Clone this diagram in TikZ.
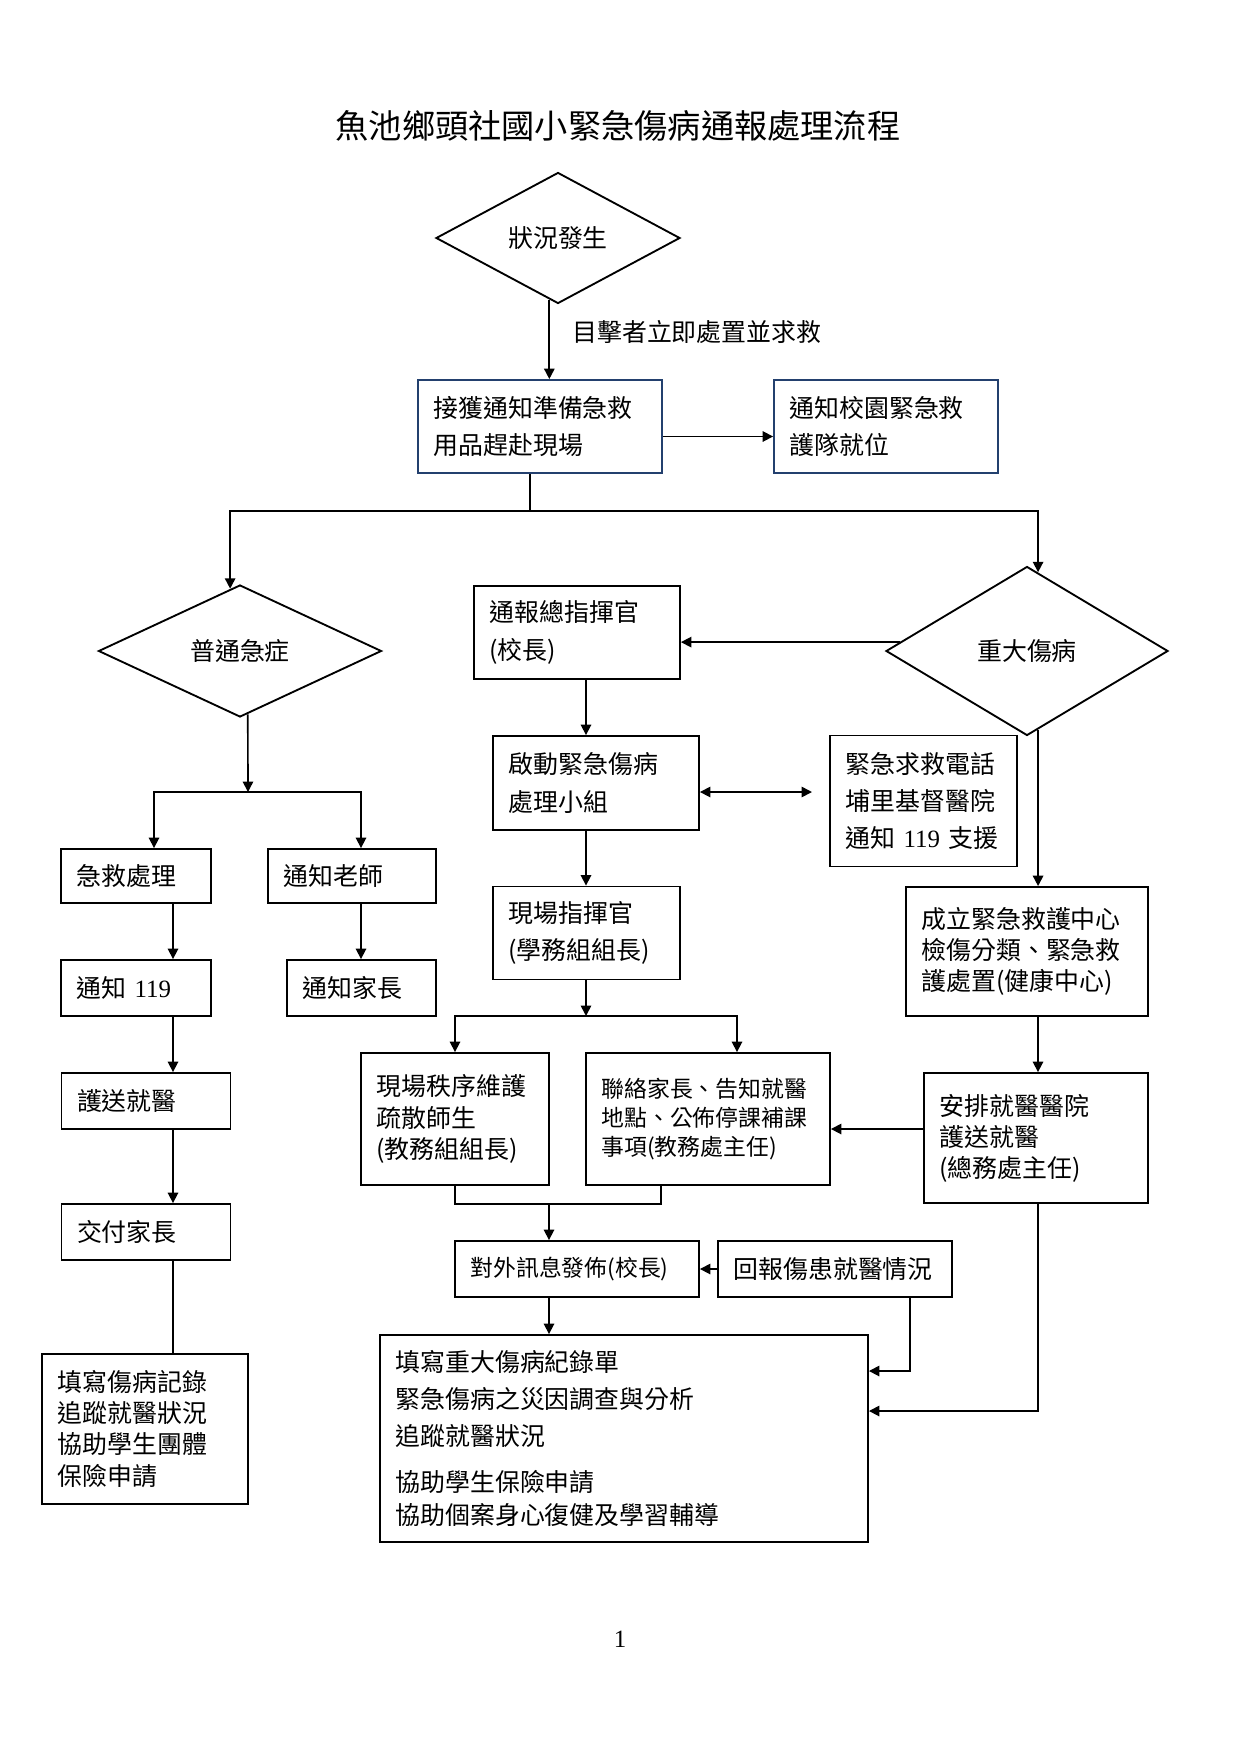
\documentclass[tikz,border=0pt]{standalone}
\usepackage{fontspec}
\setmainfont{Noto Sans CJK TC}
\newfontfamily\latinfont{Liberation Serif}
\usepackage{xcolor}
\usetikzlibrary{shapes.geometric,arrows.meta,calc}

\definecolor{navyline}{RGB}{35,64,110}
\newcommand{\pxlen}{0.16935mm}
\newcommand{\latn}[1]{{\latinfont #1}}

\tikzset{
  box/.code 2 args={%
    \pgfmathsetlengthmacro\boxw{#1*\pxlen}%
    \pgfmathsetlengthmacro\boxh{#2*\pxlen}%
    \pgfmathsetlengthmacro\boxt{#1*\pxlen-15pt}%
    \edef\boxopts{\noexpand\tikzset{draw, line width=0.9pt, minimum width=\boxw,
      minimum height=\boxh, text width=\boxt, inner xsep=7.5pt, inner ysep=0pt, align=left}}%
    \boxopts},
  decide/.style n args={3}{diamond, draw, line width=0.9pt, inner sep=0pt, aspect=#3,
    minimum width=#1*\pxlen, minimum height=#2*\pxlen},
  arr/.style={-{Triangle[length=5pt,width=5pt]}, line width=0.8pt},
  link/.style={line width=0.8pt},
}

\begin{document}
\begin{tikzpicture}[x=\pxlen, y=-\pxlen, font=\fontsize{12pt}{15pt}\selectfont]
\useasboundingbox (0,0) rectangle (1240,1754);
\node (title) at (618,126) {\fontsize{16pt}{19pt}\selectfont 魚池鄉頭社國小緊急傷病通報處理流程};
%
\node[decide={244}{131}{1.86}] (start) at (558,238) {狀況發生};
\node[anchor=west] (witness) at (565,332) {目擊者立即處置並求救};
\node[box={244}{93}, draw=navyline] (recv) at (540,426.5) {接獲通知準備急救\\[3pt]用品趕赴現場};
\node[box={224}{93}, draw=navyline] (team) at (886,426.5) {通知校園緊急救\\[3pt]護隊就位};
\coordinate (sTop) at (530,511);
%
\node[decide={283}{132}{2.14}] (minor) at (240,651) {普通急症};
\node[decide={282}{169}{1.67}] (major) at (1027,651) {重大傷病};
\node[box={206}{93}] (cmd) at (577,632.5) {通報總指揮官\\[3pt](校長)};
\node[box={206}{94}] (group) at (596,783) {啟動緊急傷病\\[3pt]處理小組};
\node[box={187}{131}] (phone) at (923.5,801) {緊急求救電話\\[3pt]埔里基督醫院\\[3pt]通知~\latn{119}~支援};
\coordinate (phoneIn) at (812,792);
\node[box={242}{129}] (aid) at (1027,951.5) {成立緊急救護中心\\檢傷分類、緊急救\\護處置(健康中心)};
\node[box={187}{93}] (field) at (586.5,933) {現場指揮官\\[3pt](學務組組長)};
\coordinate (s2) at (586,1016);
\node[box={188}{132}] (order) at (455,1119) {現場秩序維護\\疏散師生\\(教務組組長)};
\node[box={244}{132}, font=\fontsize{11pt}{14pt}\selectfont] (parent) at (708,1119) {聯絡家長、告知就醫\\地點、公佈停課補課\\事項(教務處主任)};
\node[box={224}{130}] (hosp) at (1036,1138) {安排就醫醫院\\護送就醫\\(總務處主任)};
\coordinate (m1) at (549,1204);
\node[box={244}{56}, font=\fontsize{11pt}{14pt}\selectfont] (news) at (577,1269) {對外訊息發佈(校長)};
\node[box={234}{56}] (report) at (835,1269) {回報傷患就醫情況};
\node[box={488}{207}] (rec) at (624,1438.5) {填寫重大傷病紀錄單\\[3pt]緊急傷病之災因調查與分析\\[3pt]追蹤就醫狀況\\[7pt]協助學生保險申請\\[1pt]協助個案身心復健及學習輔導};
\coordinate (r1) at (910,1371);
\coordinate (r2) at (1038,1411);
%
\coordinate (s3) at (248,792);
\node[box={150}{54}] (first) at (136,876) {急救處理};
\node[box={168}{54}] (teacher) at (352,876) {通知老師};
\node[box={150}{56}] (call) at (136,988) {通知~\latn{119}};
\node[box={149}{56}] (tell) at (361.5,988) {通知家長};
\node[box={169}{56}] (escort) at (146,1101) {護送就醫};
\node[box={169}{56}] (hand) at (146,1232) {交付家長};
\node[box={206}{150}] (log) at (145,1429) {填寫傷病記錄\\追蹤就醫狀況\\協助學生團體\\保險申請};
\node (page) at (620,1639) {\latn{1}};
%
\draw[arr] (start.262) -- (start.262 |- recv.north);
\draw[arr] ($(recv.east)+(0,10)$) -- ($(team.west)+(0,10)$);
\draw[link] (recv.south -| sTop) -- (sTop);
\draw[arr] (sTop) -| (minor.99);
\draw[arr] (sTop) -| (major.82);
\draw[arr] (major.176) -- (major.176 -| cmd.east);
\draw[arr] (cmd.south -| s2) -- (group.north -| s2);
\draw[{Triangle[length=5pt,width=5pt]}-{Triangle[length=5pt,width=5pt]}, line width=0.8pt] (group.east |- phoneIn) -- (phoneIn);
\draw[arr] (major.278) -- (major.278 |- aid.north);
\draw[arr] (group.south -| s2) -- (field.north -| s2);
\draw[arr] (field.south -| s2) -- (s2);
\draw[arr] (s2) -| (order.north);
\draw[arr] (s2) -| (parent.north -| 737,0);
\draw[arr] (aid.south -| r2) -- (hosp.north -| r2);
\draw[arr] (hosp.west |- 0,1129) -- (parent.east |- 0,1129);
\draw[link] (order.south) |- (m1);
\draw[link] (parent.south -| 661,0) |- (m1);
\draw[arr] (m1) -- (m1 |- news.north);
\draw[arr] (report.west) -- (news.east);
\draw[arr] (news.south -| m1) -- (rec.north -| m1);
\draw[arr] (report.south -| r1) -- (r1) -- (rec.east |- r1);
\draw[arr] (hosp.south -| r2) -- (r2) -- (rec.east |- r2);
%
\draw[arr] (minor.277) -- (s3);
\draw[arr] (s3) -| (first.north -| 154,0);
\draw[arr] (s3) -| (teacher.north -| 361,0);
\draw[arr] (first.south -| 173,0) -- (call.north -| 173,0);
\draw[arr] (teacher.south -| 361,0) -- (tell.north -| 361,0);
\draw[arr] (call.south -| 173,0) -- (escort.north -| 173,0);
\draw[arr] (escort.south -| 173,0) -- (hand.north -| 173,0);
\draw[link] (hand.south -| 173,0) -- (log.north -| 173,0);
\end{tikzpicture}
\end{document}
